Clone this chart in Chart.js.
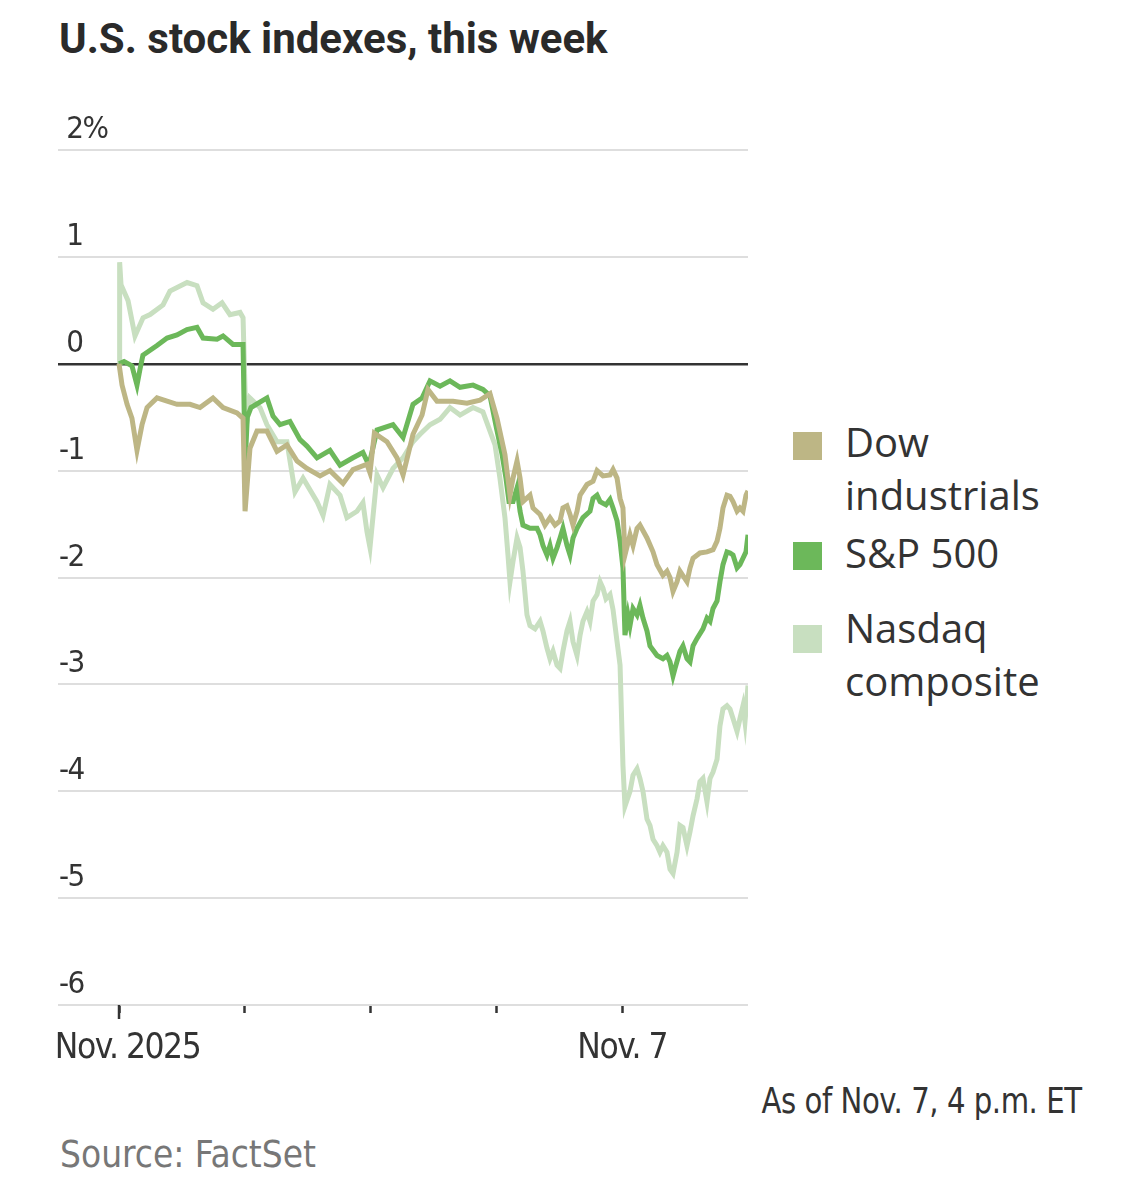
<!DOCTYPE html>
<html>
<head>
<meta charset="utf-8">
<script src="https://cdn.jsdelivr.net/npm/chart.js@4.4.1/dist/chart.umd.min.js"></script>
<style>
  html, body { margin:0; padding:0; background:#fff; }
  body { width:1146px; height:1200px; position:relative; overflow:hidden; }
  .narrow { font-family:'Liberation Sans Narrow','DejaVu Sans Condensed','Liberation Sans',sans-serif; }
  #title { position:absolute; left:59px; top:18px; font-family:Roboto,'Liberation Sans',sans-serif; font-weight:700; font-size:42px; line-height:42px; color:#2a2a2a; white-space:nowrap; }
  #wrap { position:absolute; left:40px; top:90px; width:720px; height:1010px; }
  .lg { position:absolute; left:793px; width:29px; height:28px; }
  .lt { position:absolute; left:845px; font-family:'Open Sans','Noto Sans',sans-serif; font-size:40px; line-height:53px; color:#333; white-space:nowrap; }
  #asof { position:absolute; right:64px; top:1083px; font-size:36px; line-height:36px; color:#333; white-space:nowrap; transform:scaleX(0.9); transform-origin:right center; letter-spacing:-0.5px; }
  #src { position:absolute; left:60px; top:1135px; font-size:38px; line-height:38px; color:#777; white-space:nowrap; transform:scaleX(0.965); transform-origin:left center; }
</style>
</head>
<body>
<div id="title">U.S. stock indexes, this week</div>
<div id="wrap"><canvas id="c"></canvas></div>
<div class="lg" style="top:432px;background:#bdb685"></div>
<div class="lt" style="top:415px">Dow<br>industrials</div>
<div class="lg" style="top:542px;background:#6cb85a"></div>
<div class="lt" style="top:526px">S&amp;P 500</div>
<div class="lg" style="top:625px;background:#c8dfc0"></div>
<div class="lt" style="top:601px">Nasdaq<br>composite</div>
<div id="asof" class="narrow">As of Nov. 7, 4 p.m. ET</div>
<div id="src" class="narrow">Source: FactSet</div>
<script>
// x = trading days since Nov. 3 open (0..5), y = % change
const yTicks = [2, 1, 0, -1, -2, -3, -4, -5, -6];
const xTickValues = [0, 1, 2, 3, 4];
const xTickLabels = ['  Nov. 2025', '', '', '', 'Nov. 7'];

const dowT = [0,0.024,0.064,0.103,0.143,0.183,0.223,0.302,0.382,0.461,0.564,0.644,0.747,0.827,0.938,0.986,
  1.002,1.041,1.097,1.176,1.256,1.335,1.415,1.494,1.598,1.677,1.781,1.860,1.971,1.995,
  2.030,2.130,2.210,2.258,2.337,2.409,2.456,2.528,2.655,2.766,2.870,2.949,
  3.005,3.068,3.108,3.132,3.164,3.188,3.211,3.267,3.291,3.347,3.386,3.426,3.466,3.506,3.529,3.561,3.585,3.609,3.641,3.665,3.720,3.768,3.800,3.847,3.903,3.927,3.959,3.983,
  4.006,4.022,4.062,4.086,4.118,4.141,4.197,4.245,4.277,4.324,4.356,4.380,4.404,4.436,4.459,4.515,4.539,4.563,4.618,4.674,4.722,4.754,4.777,4.801,4.833,4.857,4.881,4.913,4.936,4.960,4.984,5.0];
const dowV = [0,-0.20,-0.38,-0.51,-0.81,-0.57,-0.41,-0.32,-0.35,-0.38,-0.38,-0.41,-0.32,-0.41,-0.46,-0.51,
  -1.38,-0.79,-0.63,-0.63,-0.82,-0.76,-0.91,-0.98,-1.05,-1.00,-1.12,-0.99,-0.94,-1.02,
  -0.65,-0.73,-0.88,-1.04,-0.66,-0.48,-0.24,-0.35,-0.35,-0.37,-0.34,-0.28,
  -0.51,-0.85,-1.23,-1.07,-0.91,-1.07,-1.29,-1.23,-1.35,-1.41,-1.51,-1.44,-1.51,-1.47,-1.35,-1.33,-1.41,-1.51,-1.38,-1.23,-1.13,-1.10,-1.00,-1.05,-1.04,-0.99,-1.07,-1.26,
  -1.35,-1.79,-1.60,-1.70,-1.54,-1.51,-1.63,-1.76,-1.88,-1.98,-1.94,-2.00,-2.13,-2.04,-1.94,-2.04,-1.91,-1.82,-1.77,-1.76,-1.74,-1.66,-1.54,-1.35,-1.23,-1.24,-1.29,-1.38,-1.35,-1.38,-1.23,-1.19];

const spT = [0,0.040,0.103,0.143,0.167,0.190,0.302,0.382,0.461,0.540,0.620,0.668,0.779,0.827,0.906,0.986,
  1.002,1.020,1.049,1.176,1.224,1.280,1.359,1.439,1.494,1.574,1.677,1.757,1.860,1.939,1.987,
  2.051,2.178,2.258,2.337,2.409,2.472,2.552,2.631,2.711,2.814,2.893,2.949,
  3.000,3.045,3.076,3.100,3.132,3.164,3.188,3.211,3.267,3.323,3.347,3.370,3.402,3.426,3.450,3.482,3.506,3.529,3.561,3.585,3.609,3.641,3.688,3.744,3.768,3.800,3.824,3.871,3.903,3.927,3.959,3.983,
  4.006,4.022,4.046,4.062,4.086,4.118,4.141,4.165,4.197,4.221,4.277,4.324,4.356,4.380,4.404,4.420,4.459,4.483,4.515,4.539,4.563,4.595,4.642,4.674,4.698,4.722,4.754,4.777,4.801,4.833,4.857,4.881,4.913,4.936,4.960,4.984,5.0];
const spV = [0,0.02,-0.02,-0.20,-0.05,0.08,0.17,0.24,0.27,0.32,0.34,0.24,0.23,0.26,0.18,0.18,
  -0.95,-0.50,-0.41,-0.32,-0.49,-0.57,-0.54,-0.71,-0.77,-0.88,-0.81,-0.95,-0.88,-0.83,-0.95,
  -0.62,-0.57,-0.69,-0.38,-0.32,-0.16,-0.21,-0.16,-0.22,-0.20,-0.24,-0.30,
  -0.60,-0.85,-1.07,-1.29,-1.29,-1.16,-1.38,-1.51,-1.54,-1.54,-1.60,-1.70,-1.79,-1.70,-1.82,-1.72,-1.63,-1.54,-1.70,-1.79,-1.63,-1.54,-1.44,-1.38,-1.26,-1.23,-1.29,-1.32,-1.27,-1.35,-1.47,-1.66,
  -1.91,-2.54,-2.35,-2.45,-2.29,-2.35,-2.26,-2.38,-2.50,-2.64,-2.73,-2.76,-2.73,-2.79,-2.92,-2.85,-2.69,-2.64,-2.76,-2.79,-2.64,-2.57,-2.48,-2.38,-2.41,-2.29,-2.22,-2.04,-1.88,-1.76,-1.77,-1.79,-1.91,-1.88,-1.82,-1.76,-1.60];

const ndT = [0,0.005,0.016,0.072,0.127,0.191,0.247,0.350,0.405,0.541,0.620,0.668,0.747,0.819,0.882,0.962,0.986,
  1.010,1.041,1.121,1.176,1.256,1.335,1.399,1.463,1.574,1.622,1.677,1.757,1.812,1.892,1.939,1.971,1.995,
  2.051,2.099,2.178,2.258,2.337,2.393,2.472,2.552,2.631,2.711,2.814,2.893,2.949,
  2.989,3.028,3.068,3.092,3.108,3.132,3.164,3.188,3.211,3.243,3.267,3.307,3.347,3.370,3.402,3.426,3.450,3.482,3.506,3.529,3.561,3.585,3.609,3.641,3.665,3.688,3.720,3.744,3.768,3.800,3.824,3.847,3.871,3.903,3.927,3.959,3.983,
  4.006,4.022,4.062,4.086,4.118,4.141,4.165,4.197,4.221,4.245,4.277,4.300,4.324,4.356,4.380,4.404,4.436,4.459,4.483,4.515,4.539,4.563,4.595,4.618,4.642,4.674,4.698,4.722,4.754,4.777,4.801,4.833,4.857,4.881,4.913,4.936,4.960,4.976,5.0];
const ndV = [0,0.95,0.74,0.59,0.26,0.43,0.46,0.55,0.68,0.76,0.73,0.57,0.51,0.57,0.46,0.48,0.43,
  -0.60,-0.32,-0.41,-0.57,-0.73,-0.73,-1.20,-1.07,-1.29,-1.42,-1.13,-1.23,-1.44,-1.38,-1.30,-1.57,-1.72,
  -1.04,-1.16,-0.98,-0.88,-0.73,-0.66,-0.57,-0.52,-0.41,-0.48,-0.41,-0.45,-0.63,
  -0.76,-1.07,-1.44,-1.79,-2.04,-1.85,-1.63,-1.72,-1.94,-2.35,-2.45,-2.48,-2.41,-2.50,-2.66,-2.76,-2.69,-2.82,-2.85,-2.69,-2.50,-2.41,-2.60,-2.73,-2.54,-2.41,-2.32,-2.41,-2.22,-2.16,-2.04,-2.10,-2.20,-2.16,-2.30,-2.60,-2.82,
  -3.76,-4.14,-4.00,-3.85,-3.79,-3.88,-4.00,-4.26,-4.32,-4.45,-4.51,-4.57,-4.51,-4.57,-4.73,-4.77,-4.57,-4.32,-4.34,-4.51,-4.38,-4.23,-4.07,-3.91,-3.88,-4.10,-3.88,-3.82,-3.70,-3.39,-3.23,-3.20,-3.23,-3.32,-3.44,-3.32,-3.20,-3.35,-3.01];

const zip = (t, v) => t.map((x, i) => ({ x: x, y: v[i] }));
const NARROW = "'Liberation Sans Narrow','DejaVu Sans Condensed','Liberation Sans',sans-serif";

const tightTextPlugin = {
  id: 'tightText',
  beforeDraw(chart) { try { chart.ctx.letterSpacing = '-1.5px'; } catch (e) {} }
};

const firstTickPlugin = {
  id: 'firstTick',
  afterDraw(chart) {
    const xs = chart.scales.x, ctx = chart.ctx, b = chart.chartArea.bottom;
    const px = xs.getPixelForValue(xTickValues[0]);
    ctx.save();
    ctx.strokeStyle = '#333'; ctx.lineWidth = 2.5;
    ctx.beginPath(); ctx.moveTo(px, b); ctx.lineTo(px, b + 14); ctx.stroke();
    ctx.restore();
  }
};

new Chart(document.getElementById('c'), {
  type: 'line',
  data: {
    datasets: [
      { label: 'Dow industrials', data: zip(dowT, dowV), borderColor: '#bdb685' },
      { label: 'S&P 500', data: zip(spT, spV), borderColor: '#6cb85a' },
      { label: 'Nasdaq composite', data: zip(ndT, ndV), borderColor: '#c8dfc0' }
    ]
  },
  options: {
    responsive: true,
    maintainAspectRatio: false,
    animation: false,
    layout: { padding: { top: 60, left: 18, right: 12, bottom: 0 } },
    elements: {
      point: { radius: 0 },
      line: { borderWidth: 5, tension: 0, borderJoinStyle: 'miter' }
    },
    plugins: { legend: { display: false }, tooltip: { enabled: false } },
    scales: {
      x: {
        type: 'linear', min: -0.485, max: 5,
        afterBuildTicks: (s) => { s.ticks = xTickValues.map(v => ({ value: v })); },
        afterFit: (s) => { s.height = 95; s.paddingLeft = 0; s.paddingRight = 0; },
        border: { display: false },
        grid: { drawOnChartArea: false, drawTicks: true, tickLength: 8, tickWidth: 2.5, tickColor: '#333' },
        ticks: {
          autoSkip: false, maxRotation: 0, padding: 15,
          color: '#333', font: { family: NARROW, size: 35 },
          callback: (v) => { const i = xTickValues.indexOf(v); return i >= 0 ? xTickLabels[i] : ''; }
        }
      },
      y: {
        min: -6, max: 2,
        afterBuildTicks: (s) => { s.ticks = yTicks.map(v => ({ value: v })); },
        afterFit: (s) => { s.width = 0; },
        border: { display: false },
        grid: {
          drawTicks: false,
          color: (c) => c.tick && c.tick.value === 0 ? '#333' : '#dedede',
          lineWidth: (c) => c.tick && c.tick.value === 0 ? 2.5 : 2
        },
        ticks: {
          mirror: true, padding: 1, labelOffset: -20,
          color: '#333', font: { family: NARROW, size: 31 },
          callback: (v) => v < 0 ? String(v) : ' ' + (v === 2 ? '2%' : String(v))
        }
      }
    }
  },
  plugins: [tightTextPlugin, firstTickPlugin]
});
</script>
</body>
</html>
